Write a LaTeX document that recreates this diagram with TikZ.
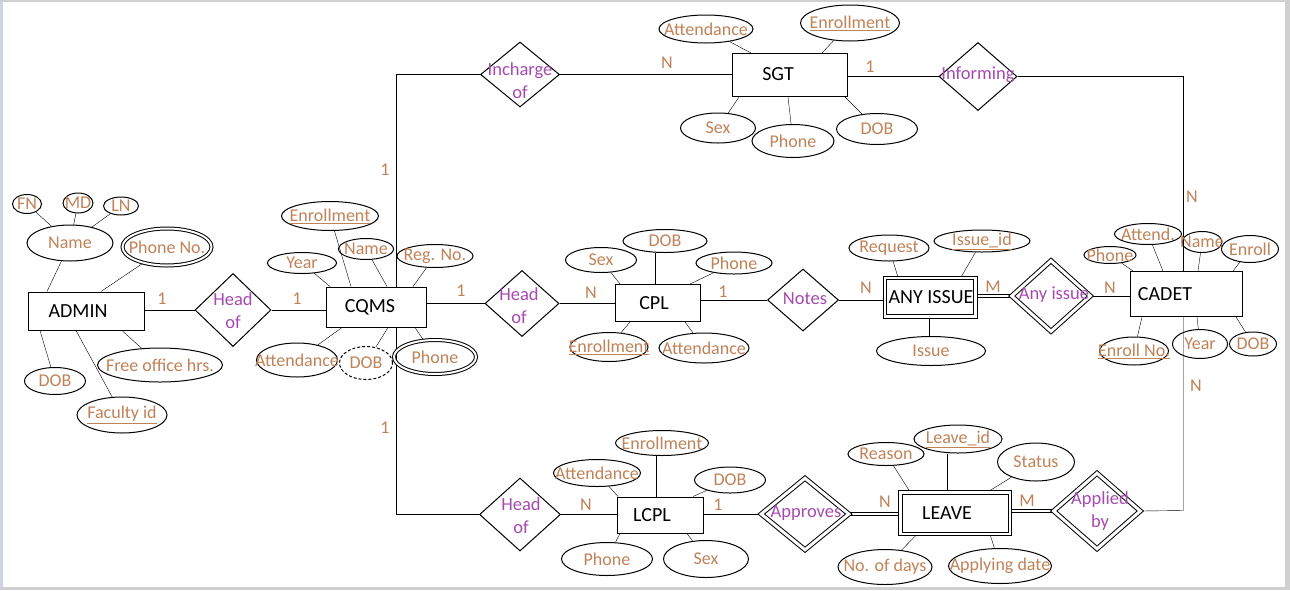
\documentclass[tikz,border=0pt]{standalone}
\usepackage{fontspec}
\setmainfont{Carlito}
\usetikzlibrary{shapes.geometric}
\pgfdeclarelayer{background}
\pgfsetlayers{background,main}
\definecolor{attrc}{RGB}{192,130,88}
\definecolor{relc}{RGB}{165,75,175}
\definecolor{edgeL}{RGB}{205,213,228}
\definecolor{edgeG}{RGB}{208,208,208}
\newcommand\attrnode[7][]{%
  \node[attr,#1,minimum width=#5pt,minimum height=#6pt] (#2) at (#3,#4) {};
  \node[atxt] (#2t) at (#2) {#7};}
\newcommand\relnode[6][]{%
  \node[rel,#1,minimum width=#5pt,minimum height=#6pt] (#2) at (#3,#4) {};}
\begin{document}
\begin{tikzpicture}[x=1pt,y=-1pt,line width=1pt,
  ent/.style={draw,rectangle,inner sep=0pt},
  wkent/.style={ent,double,double distance=2.5pt},
  attr/.style={draw,ellipse,inner sep=0pt},
  atxt/.style={text=attrc,font=\fontsize{18}{21}\selectfont,inner sep=0pt},
  etxt/.style={font=\fontsize{20}{24}\selectfont,inner sep=0pt},
  rel/.style={draw,diamond,inner sep=0pt},
  wkrel/.style={rel,double,double distance=3pt},
  rtxt/.style={text=relc,font=\fontsize{18.5}{23}\selectfont,align=center,inner sep=0pt},
  card/.style={text=attrc,font=\fontsize{18}{21}\selectfont,inner sep=0pt},
  dbl/.style={double,double distance=2.5pt},
]
\useasboundingbox (0,0) rectangle (1290,590);

% ---------- entities ----------
\node[ent,minimum width=116pt,minimum height=38pt] (admin) at (86,311) {};
\node[etxt] (admint) at (78,311) {ADMIN};
\node[ent,minimum width=100pt,minimum height=40pt] (cqms) at (376,307) {};
\node[etxt] (cqmst) at (370,307) {CQMS};
\node[ent,minimum width=115pt,minimum height=43pt] (sgt) at (790,75) {};
\node[etxt] (sgtt) at (778,74) {SGT};
\node[ent,minimum width=85pt,minimum height=37pt] (cpl) at (658,303) {};
\node[etxt] (cplt) at (654,303) {CPL};
\node[wkent,minimum width=90.5pt,minimum height=38.5pt] (anyissue) at (930,297) {};
\node[etxt] (anyissuet) at (931,297) {ANY ISSUE};
\node[ent,minimum width=112pt,minimum height=45pt] (cadet) at (1186,294) {};
\node[etxt] (cadett) at (1165,294) {CADET};
\node[ent,minimum width=86pt,minimum height=36pt] (lcpl) at (660,515) {};
\node[etxt] (lcplt) at (652,515) {LCPL};
\node[wkent,minimum width=109.5pt,minimum height=41.5pt] (leave) at (955,513) {};
\node[etxt] (leavet) at (947,513) {LEAVE};

% ---------- relationships ----------
\relnode{head1}{233}{310}{76}{73}
\node[rtxt] (head1t) at (233,311) {Head\\of};
\relnode{incharge}{520}{74.5}{79}{65}
\node[rtxt] (incharget) at (520,81) {Incharge\\of};
\relnode{informing}{978}{76.5}{78}{68}
\node[rtxt] (informingt) at (978,75) {Informing};
\relnode{head2}{522}{303.5}{74}{66}
\node[rtxt] (head2t) at (519,306) {Head\\of};
\relnode{notes}{803}{300}{71}{62}
\node[rtxt] (notest) at (805,299) {Notes};
\relnode[wkrel]{anyrel}{1051}{296}{79}{71}
\node[rtxt] (anyrelt) at (1054,295) {Any issue};
\relnode{head3}{520}{514.5}{81}{73}
\node[rtxt] (head3t) at (521,516) {Head\\of};
\relnode[wkrel]{approves}{805}{514}{88}{72}
\node[rtxt] (approvest) at (806,513) {Approves};
\relnode[wkrel]{applied}{1097}{511}{87}{76}
\node[rtxt] (appliedt) at (1100,511) {Applied\\by};

% ---------- attributes ----------
% ADMIN
\attrnode{name1}{70}{243}{86}{36}{Name}
\attrnode{fn}{27}{204}{29}{19}{FN}
\attrnode{md}{78}{203}{30}{20}{MD}
\attrnode{ln}{121}{206}{35}{18}{LN}
\attrnode[double,double distance=2pt]{phno}{167}{247}{89}{37}{Phone No.}
\attrnode{adob}{55}{381}{61}{27}{DOB}
\attrnode{facid}{122}{415}{90}{36}{\underline{Faculty id}}
\attrnode{free}{160}{365}{125}{34}{Free office hrs.}
% CQMS
\attrnode{cenr}{330}{216}{97}{29}{\underline{Enrollment}}
\attrnode{cyear}{302}{263}{69}{21}{Year}
\attrnode{cname}{366}{249}{55}{21}{Name}
\attrnode{creg}{435}{256}{76}{23}{Reg. No.}
\attrnode{catt}{297}{360}{81}{34}{Attendance}
\attrnode[dash pattern=on 3pt off 2pt]{cdob}{366}{363}{53}{33}{DOB}
\attrnode[double,double distance=2pt]{cph}{435}{357}{82}{34}{Phone}
% SGT
\attrnode{satt}{706}{29}{94}{28}{Attendance}
\attrnode{senr}{850}{23}{99}{36}{\underline{Enrollment}}
\attrnode{ssex}{718}{128}{75}{30}{Sex}
\attrnode{sph}{793}{141}{82}{33}{Phone}
\attrnode{sdob}{877}{129}{81}{31}{DOB}
% CPL
\attrnode{psex}{601}{260}{71}{25}{Sex}
\attrnode{pdob}{665}{241}{84}{23}{DOB}
\attrnode{pph}{734}{263}{76}{22}{Phone}
\attrnode{penr}{609}{347}{78}{29}{\underline{Enrollment}}
\attrnode{patt}{704}{348}{90}{30}{Attendance}
% ANY ISSUE
\attrnode{areq}{889}{248}{80}{26}{Request}
\attrnode{aid}{982}{241}{96}{22}{\underline{Issue\_id}}
\attrnode{aiss}{931}{351}{109}{29}{Issue}
% CADET
\attrnode{dph}{1110}{255}{52}{17}{Phone}
\attrnode{datt}{1148}{234}{67}{21}{Attend.}
\attrnode{dname}{1202}{242}{40}{21}{Name}
\attrnode{denr}{1250}{249}{57}{27}{Enroll}
\attrnode{denrno}{1134}{351}{69}{28}{\underline{Enroll No.}}
\attrnode{dyear}{1200}{344}{55}{29}{Year}
\attrnode{ddob}{1253}{344}{47}{24}{DOB}
% LCPL
\attrnode{latt}{597}{473}{87}{27}{Attendance}
\attrnode{lenr}{662}{443}{93}{25}{Enrollment}
\attrnode{ldob}{730}{480}{71}{26}{DOB}
\attrnode{lph}{607}{559}{91}{33}{Phone}
\attrnode{lsex}{706}{559}{85}{37}{Sex}
% LEAVE
\attrnode{vreason}{886}{454}{76}{23}{Reason}
\attrnode{vid}{958}{439}{88}{28}{\underline{Leave\_id}}
\attrnode{vstat}{1036}{462}{77}{38}{Status}
\attrnode{vdays}{885}{567}{94}{35}{No. of days}
\attrnode{vdate}{1000}{566}{103}{35}{Applying date}

% ---------- corner coordinates ----------
\coordinate (vt) at (396.5,74.5);
\coordinate (vb) at (396.5,514.5);
\coordinate (rt) at (1183.5,76.5);
\coordinate (rb) at (1183.5,510.5);

% ---------- connectors ----------
\begin{pgfonlayer}{background}
\fill[white] (0,0) rectangle (1290,590);
\fill[edgeL] (0,0) rectangle (2.5,590);
\fill[edgeG] (0,0) rectangle (1290,1.5);
\fill[edgeG] (1285,0) rectangle (1290,590);
\fill[edgeG] (0,587) rectangle (1290,590);
% relationships
\draw (admin.east |- head1) -- (head1.west);
\draw (head1.east) -- (head1.east -| cqms.west);
\draw (cqms.east |- head2.west) -- (head2.west);
\draw (head2.east) -- (head2.east -| cpl.west);
\draw (cpl.east |- notes.west) -- (notes.west);
\draw (notes.east) -- (notes.east -| anyissue.west);
\draw[dbl] (anyissue.east |- anyrel.west) -- (anyrel.west);
\draw (anyrel.east) -- (anyrel.east -| cadet.west);
\draw (cqms.north -| vt) -- (vt) -- (incharge.west);
\draw (incharge.east) -- (incharge.east -| sgt.west);
\draw (sgt.east |- informing.west) -- (informing.west);
\draw (informing.east) -- (rt) -- (cadet.north -| rt);
\draw (cqms.south -| vb) -- (vb) -- (head3.west);
\draw (head3.east) -- (head3.east -| lcpl.west);
\draw (lcpl.east |- approves.west) -- (approves.west);
\draw[dbl] (approves.east) -- (approves.east -| leave.west);
\draw[dbl] (leave.east |- applied.west) -- (applied.west);
\draw (applied.east) -- (rb) -- (cadet.south -| rb);
% ADMIN attributes
\draw (fn) -- (name1);
\draw (md) -- (name1);
\draw (ln) -- (name1);
\draw (name1) -- (admin.north -| 47,0);
\draw (phno) -- (admin.north -| 101,0);
\draw (adob) -- (admin.south -| 40,0);
\draw (facid) -- (admin.south -| 76,0);
\draw (free) -- (admin.south -| 122,0);
% CQMS attributes
\draw (cenr) -- (cqms.north -| 351,0);
\draw (cyear) -- (cqms.north -| 330,0);
\draw (cname) -- (cqms.north -| 387,0);
\draw (creg) -- (cqms.north -| 413,0);
\draw (catt) -- (cqms.south -| 342,0);
\draw (cdob) -- (cqms.south -| 388,0);
\draw (cph) -- (cqms.south -| 415,0);
% SGT attributes
\draw (satt) -- (sgt.north -| 751,0);
\draw (senr) -- (sgt.north -| 822,0);
\draw (ssex) -- (sgt.south -| 739,0);
\draw (sph) -- (sgt.south -| 788,0);
\draw (sdob) -- (sgt.south -| 845,0);
% CPL attributes
\draw (psex) -- (cpl.north -| 620,0);
\draw (pdob.south -| 655.5,0) -- (cpl.north -| 655.5,0);
\draw (pph) -- (cpl.north -| 690,0);
\draw (penr) -- (cpl.south -| 630,0);
\draw (patt) -- (cpl.south -| 685,0);
% ANY ISSUE attributes
\draw (areq) -- (anyissue.north -| 898,0);
\draw (aid) -- (anyissue.north -| 961,0);
\draw (aiss.north -| 929.5,0) -- (anyissue.south -| 929.5,0);
% CADET attributes
\draw (dph) -- (cadet.north -| 1133,0);
\draw (datt) -- (cadet.north -| 1163,0);
\draw (dname) -- (cadet.north -| 1198,0);
\draw (denr) -- (cadet.north -| 1233,0);
\draw (denrno) -- (cadet.south -| 1142,0);
\draw (dyear) -- (cadet.south -| 1197,0);
\draw (ddob) -- (cadet.south -| 1236,0);
% LCPL attributes
\draw (latt) -- (lcpl.north -| 618,0);
\draw (lenr.south -| 656.5,0) -- (lcpl.north -| 656.5,0);
\draw (ldob) -- (lcpl.north -| 693,0);
\draw (lph) -- (lcpl.south -| 620,0);
\draw (lsex) -- (lcpl.south -| 687,0);
% LEAVE attributes
\draw (vreason) -- (leave.north -| 910,0);
\draw (vid.south -| 947.5,0) -- (leave.north -| 947.5,0);
\draw (vstat) -- (leave.north -| 988,0);
\draw (vdays) -- (leave.south -| 917,0);
\draw (vdate) -- (leave.south -| 990,0);
\end{pgfonlayer}

% ---------- cardinalities ----------
\node[card] (k1) at (162,299) {1};
\node[card] (k2) at (297,299) {1};
\node[card] (k3) at (385,170) {1};
\node[card] (k4) at (385,428) {1};
\node[card] (k5) at (461,291) {1};
\node[card] (k6) at (591,293) {N};
\node[card] (k7) at (723,292) {1};
\node[card] (k8) at (866,288) {N};
\node[card] (k9) at (993,287) {M};
\node[card] (k10) at (1110,288) {N};
\node[card] (k11) at (1192,197) {N};
\node[card] (k12) at (1196,386) {N};
\node[card] (k13) at (667,63) {N};
\node[card] (k14) at (870,67) {1};
\node[card] (k15) at (586,505) {N};
\node[card] (k16) at (718,505) {1};
\node[card] (k17) at (885,502) {N};
\node[card] (k18) at (1027,501) {M};
\end{tikzpicture}
\end{document}
